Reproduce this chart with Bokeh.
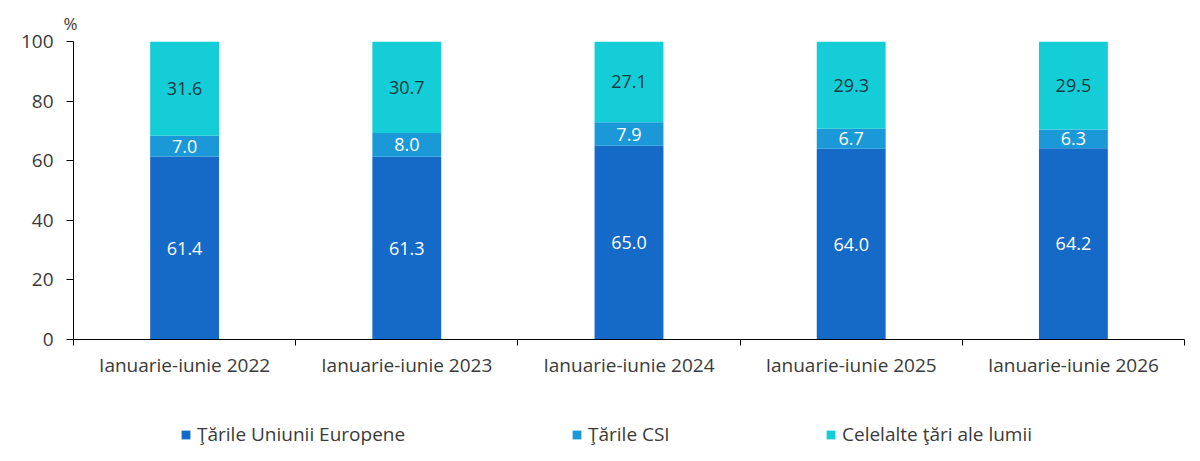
from bokeh.plotting import figure
from bokeh.models import (ColumnDataSource, LinearAxis, FixedTicker, Range1d,
                          Legend, LegendItem, LabelSet)
from bokeh.layouts import column
from bokeh.embed import file_html
from bokeh.resources import INLINE
from bokeh.core.properties import value

categories = ["Ianuarie-iunie 2022", "Ianuarie-iunie 2023", "Ianuarie-iunie 2024",
              "Ianuarie-iunie 2025", "Ianuarie-iunie 2026"]
eu = [61.4, 61.3, 65.0, 64.0, 64.2]
csi = [7.0, 8.0, 7.9, 6.7, 6.3]
other = [31.6, 30.7, 27.1, 29.3, 29.5]
series_names = ["Ţările Uniunii Europene", "Ţările CSI", "Celelalte ţări ale lumii"]
y_ticks = [0, 20, 40, 60, 80, 100]

FONT = "Open Sans"
C_EU = "#1569C7"
C_CSI = "#1A98D8"
C_OTH = "#14CDD6"
TXT = "#3a3a3a"
colors = [C_EU, C_CSI, C_OTH]

n = len(categories)
xs = [i + 0.5 for i in range(n)]
eu_top = eu
csi_top = [a + b for a, b in zip(eu, csi)]
oth_top = [a + b + c for a, b, c in zip(eu, csi, other)]

src = ColumnDataSource(dict(
    x=xs,
    eu_top=eu_top, csi_top=csi_top, oth_top=oth_top,
    eu_mid=[t / 2 for t in eu_top],
    csi_mid=[(a + b) / 2 for a, b in zip(eu_top, csi_top)],
    oth_mid=[(a + b) / 2 for a, b in zip(csi_top, oth_top)],
    eu_lab=[f"{v:.1f}" for v in eu],
    csi_lab=[f"{v:.1f}" for v in csi],
    oth_lab=[f"{v:.1f}" for v in other],
    zero=[0] * n,
))

p = figure(width=1192, height=400, output_backend="svg", toolbar_location=None,
           x_range=Range1d(0, n), y_range=Range1d(0, 100),
           x_axis_type=None, y_axis_type=None,
           min_border_left=73, min_border_right=8, min_border_top=41,
           min_border_bottom=61, title="%")
p.outline_line_color = None
p.xgrid.visible = False
p.ygrid.visible = False
p.background_fill_color = "white"
p.border_fill_color = "white"
p.title.align = "left"
p.title.offset = -10
p.title.text_font = FONT
p.title.text_font_size = "17px"
p.title.text_font_style = "normal"
p.title.text_color = TXT
p.title.standoff = 13

bw = 0.31
p.vbar(x="x", bottom="zero", top="eu_top", width=bw, source=src,
       fill_color=C_EU, line_color=None)
p.vbar(x="x", bottom="eu_top", top="csi_top", width=bw, source=src,
       fill_color=C_CSI, line_color=None)
p.vbar(x="x", bottom="csi_top", top="oth_top", width=bw, source=src,
       fill_color=C_OTH, line_color=None)

for ycol, lab, col in [("eu_mid", "eu_lab", "white"), ("csi_mid", "csi_lab", "white"),
                       ("oth_mid", "oth_lab", "#173a44")]:
    p.add_layout(LabelSet(x="x", y=ycol, text=lab, source=src,
                          text_align="center", text_baseline="middle",
                          text_font=value(FONT), text_font_size="18px",
                          text_color=col))

# y axis
yax = LinearAxis(ticker=FixedTicker(ticks=y_ticks))
yax.axis_line_color = "black"
yax.major_tick_line_color = "black"
yax.major_tick_out = 7
yax.major_tick_in = 0
yax.minor_tick_line_color = None
yax.major_label_standoff = 13
yax.major_label_text_font = FONT
yax.major_label_text_font_size = "19px"
yax.major_label_text_color = TXT
p.add_layout(yax, "left")

# x axis with boundary ticks
xax = LinearAxis(ticker=FixedTicker(ticks=list(range(n + 1))))
xax.axis_line_color = "black"
xax.major_tick_line_color = "black"
xax.major_tick_out = 6
xax.major_tick_in = 0
xax.minor_tick_line_color = None
xax.major_label_overrides = {i: "" for i in range(n + 1)}
xax.major_label_text_font_size = "1px"
xax.major_label_standoff = 0
p.add_layout(xax, "below")

# x category labels
lax = LinearAxis(ticker=FixedTicker(ticks=xs))
lax.axis_line_color = None
lax.major_tick_line_color = None
lax.minor_tick_line_color = None
lax.major_label_overrides = {x: c for x, c in zip(xs, categories)}
lax.major_label_standoff = 0
lax.major_label_text_font = FONT
lax.major_label_text_font_size = "19px"
lax.major_label_text_color = TXT
p.add_layout(lax, "below")

# legend strip
p2 = figure(width=1192, height=61, output_backend="svg", toolbar_location=None,
            x_range=Range1d(0, 1), y_range=Range1d(0, 1),
            x_axis_type=None, y_axis_type=None,
            min_border_left=0, min_border_right=0, min_border_top=0,
            min_border_bottom=0)
p2.outline_line_color = None
p2.xgrid.visible = False
p2.ygrid.visible = False
p2.border_fill_color = "white"

leg_x = [107, 498, 752]
for name, col, lx in zip(series_names, colors, leg_x):
    r = p2.vbar(x=[-5], top=[-5], bottom=[-6], width=0.1,
                fill_color=col, line_color=None)
    lg = Legend(items=[LegendItem(label=name, renderers=[r])],
                location=(lx, 14), padding=0, margin=0,
                glyph_width=11, glyph_height=11, label_standoff=6,
                label_text_font=FONT, label_text_font_size="19px",
                label_text_color=TXT, border_line_color=None,
                background_fill_alpha=0)
    p2.add_layout(lg, "center")

layout = column(p, p2, spacing=0)
open("out.html", "w").write(file_html(layout, INLINE))
